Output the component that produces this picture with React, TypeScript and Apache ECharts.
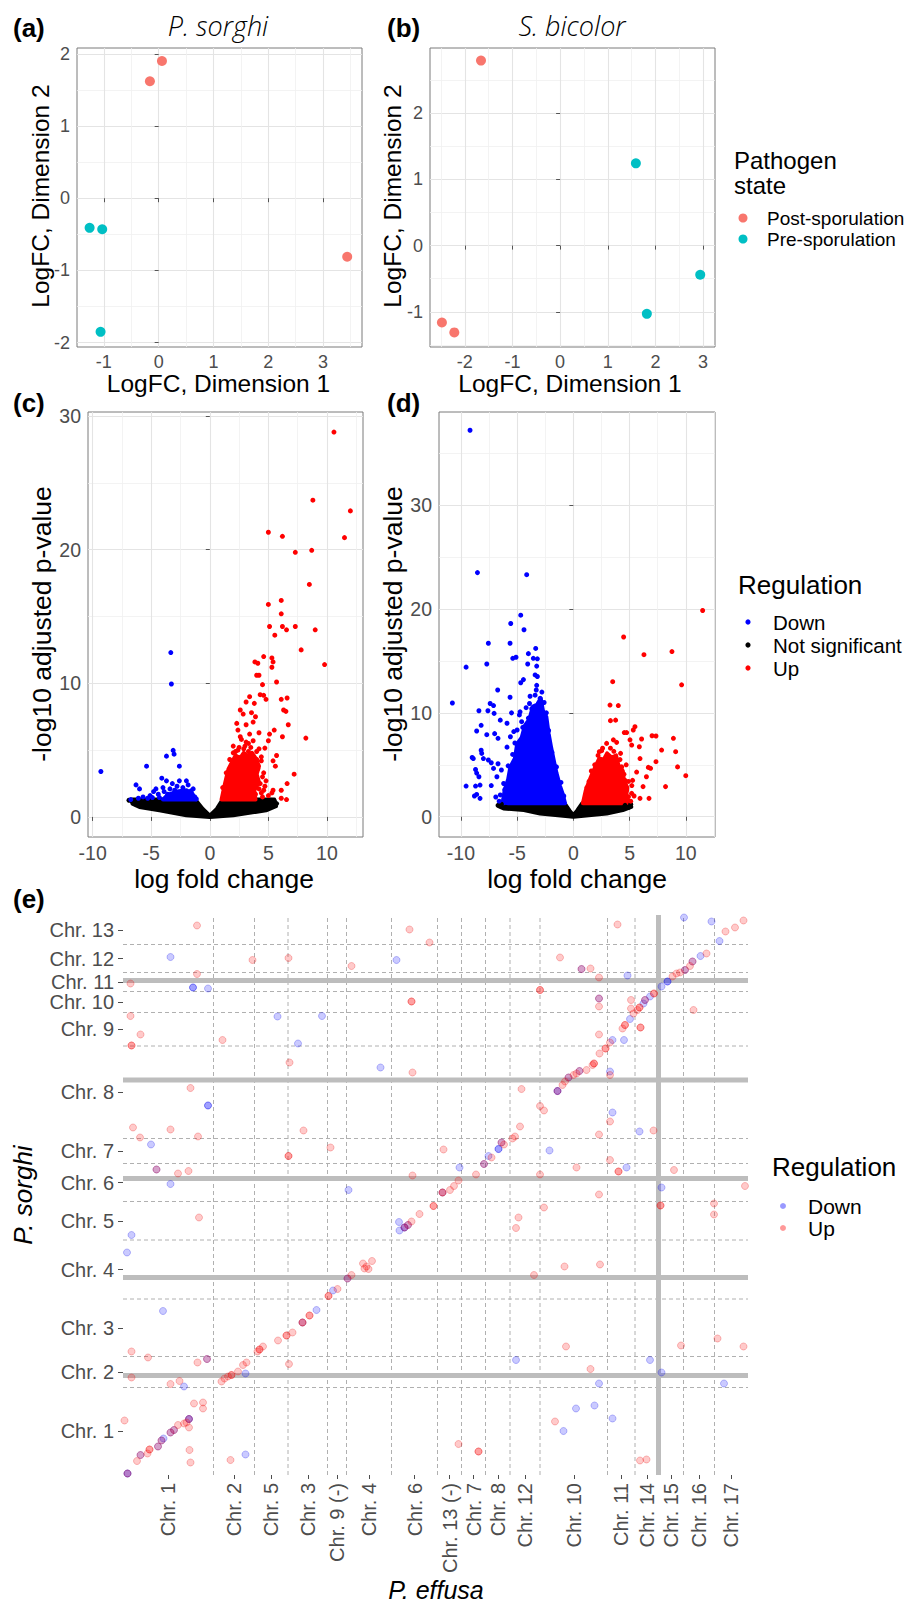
import React, { useEffect, useRef } from 'react';
import * as echarts from 'echarts';

const FF = '"Liberation Sans", Arial, Helvetica, sans-serif';
const TITLE_FF = '"Open Sans", "Liberation Sans", sans-serif';

// ---------- (a)/(b) MDS ----------
const mdsSorghiPost = [[0.06, 1.9], [-0.16, 1.62], [3.44, -0.81]];
const mdsSorghiPre = [[-1.26, -0.41], [-1.03, -0.43], [-1.06, -1.85]];
const mdsBicolorPost = [[-1.66, 2.79], [-2.48, -1.16], [-2.22, -1.31]];
const mdsBicolorPre = [[1.59, 1.24], [2.94, -0.44], [1.82, -1.03]];
const mdsSorghiXTicks = [-1, 0, 1, 2, 3];
const mdsSorghiYTicks = [-2, -1, 0, 1, 2];
const mdsBicolorXTicks = [-2, -1, 0, 1, 2, 3];
const mdsBicolorYTicks = [-1, 0, 1, 2];

// ---------- (c) volcano P. sorghi ----------
const volcanoXTicks = [-10, -5, 0, 5, 10];
const volcanoYTicks = [0, 10, 20, 30];
const cUp = [
  [10.6, 28.8], [8.8, 23.7], [12.0, 22.9], [5.0, 21.3], [6.2, 21.0], [11.5, 20.9], [7.3, 19.8], [8.7, 19.95],
  [8.5, 17.4], [5.0, 15.9], [6.1, 16.2], [6.1, 15.2], [5.1, 14.25], [6.2, 14.25], [6.55, 14.0], [7.3, 14.25],
  [9.0, 14.0], [5.55, 13.6], [7.8, 12.5], [9.8, 11.4], [4.6, 12.0], [5.3, 11.9], [5.4, 11.6], [5.3, 11.2],
  [3.85, 11.6], [4.1, 11.5], [4.0, 10.6], [4.2, 10.6], [4.5, 9.9], [5.7, 10.1], [4.3, 9.15], [4.6, 9.1],
  [4.8, 8.8], [6.1, 8.8], [6.6, 8.9], [3.4, 9.0], [3.1, 8.6], [3.8, 8.5], [6.3, 8.0], [6.5, 7.9], [2.6, 8.0],
  [2.85, 7.7], [3.56, 7.8], [3.9, 7.5], [6.7, 6.9], [2.3, 7.0], [3.1, 6.9], [3.7, 7.1], [2.4, 6.5], [3.4, 6.2],
  [4.2, 6.3], [5.5, 6.5], [5.1, 6.2], [6.2, 6.0], [8.2, 5.9], [2.7, 5.8], [3.3, 5.5], [3.7, 5.7], [5.0, 5.7],
  [2.5, 5.2], [4.2, 5.1], [4.7, 5.15], [5.7, 4.6], [4.4, 4.5], [5.4, 4.2], [5.6, 3.8], [7.2, 3.2], [4.8, 2.7],
  [6.6, 2.5], [5.4, 2.0], [6.1, 2.0], [6.1, 1.4], [6.55, 1.3], [4.6, 2.0], [3.7, 3.0], [4.1, 3.6],
  [1.2, 1.8], [1.5, 2.9], [1.9, 4.2], [2.2, 4.9], [2.9, 5.1], [3.5, 5.2], [4.0, 4.9], [4.4, 4.2], [4.6, 3.3],
  [4.3, 2.5], [3.9, 1.7], [4.5, 1.5], [5.0, 1.6], [5.3, 1.8], [1.1, 2.2], [1.4, 3.3], [1.7, 4.3], [2.0, 4.8],
  [2.4, 5.0], [3.0, 5.3], [3.3, 4.9], [4.0, 4.3], [4.5, 3.0], [4.2, 2.1], [4.4, 1.8], [4.7, 2.3], [3.1, 5.6],
  [2.0, 5.3], [1.3, 1.5], [2.6, 6.0],
];
const cDown = [
  [-9.3, 3.4], [-3.33, 12.3], [-3.28, 9.95], [-3.13, 4.98], [-3.05, 4.7], [-3.7, 4.55], [-2.6, 3.8], [-5.4, 3.8],
  [-4.1, 2.9], [-6.3, 2.4], [-6.0, 2.1], [-6.75, 1.3], [-4.8, 1.9], [-4.4, 1.7], [-3.7, 2.7], [-3.2, 2.5],
  [-2.6, 2.7], [-2.0, 2.7], [-1.85, 2.4], [-1.42, 2.1], [-2.3, 2.2], [-3.0, 2.0], [-3.6, 1.7], [-2.56, 1.7],
  [-1.7, 1.6], [-1.28, 1.5], [-5.1, 1.6], [-5.7, 1.5], [-6.1, 1.4], [-4.0, 2.2], [-4.6, 2.1], [-5.3, 1.4],
  [-4.9, 1.45], [-3.3, 1.5], [-2.2, 1.9], [-4.3, 1.45], [-3.9, 1.9], [-3.4, 2.1], [-2.8, 2.3], [-1.6, 1.95],
  [-1.15, 1.35], [-2.1, 1.55],
];
const cNS = [[-6.9, 1.25], [-6.6, 1.15], [-6.3, 0.95], [5.7, 1.0], [5.5, 1.2], [5.2, 1.25], [-5.5, 1.2], [4.5, 1.2]];
// outlines of the densest (overplotted) clouds
const cNSHull = [
  [-6.7, 1.3], [-1.25, 1.3], [-0.6, 0.6], [0, 0.1], [0.6, 0.6], [1.1, 1.3], [5.5, 1.3], [5.65, 0.8], [4.8, 0.5],
  [2.0, 0.12], [0, 0], [-2.0, 0.12], [-4.3, 0.5], [-6.0, 0.75], [-6.6, 1.0],
];
const cDownHull = [[-4.0, 1.3], [-3.6, 1.65], [-2.8, 1.9], [-2.0, 2.0], [-1.5, 1.75], [-1.2, 1.3]];
const cUpHull = [
  [1.0, 1.3], [1.3, 2.5], [1.6, 3.6], [1.9, 4.1], [2.2, 4.6], [2.6, 4.4], [2.9, 4.8], [3.3, 4.5], [3.6, 4.8],
  [3.9, 4.4], [4.2, 3.8], [4.0, 3.2], [4.2, 2.6], [3.8, 2.0], [3.9, 1.3],
];

// ---------- (d) volcano S. bicolor ----------
const dDown = [
  [-9.19, 37.2], [-8.53, 23.5], [-4.15, 23.3], [-4.68, 19.4], [-5.57, 18.6], [-4.39, 18.0], [-7.56, 16.7],
  [-5.63, 16.7], [-3.35, 16.2], [-4.0, 15.7], [-5.39, 15.25], [-5.1, 15.35], [-3.56, 15.25], [-3.2, 15.2],
  [-7.7, 14.7], [-4.06, 14.7], [-3.26, 14.5], [-9.54, 14.4], [-3.4, 13.65], [-3.2, 13.5], [-4.68, 12.9],
  [-4.44, 13.2], [-3.26, 12.65], [-6.73, 12.2], [-5.63, 11.5], [-3.85, 11.6], [-3.4, 11.7], [-2.96, 11.4],
  [-10.76, 10.95], [-7.4, 10.9], [-7.1, 10.7], [-8.4, 10.2], [-7.6, 10.2], [-7.05, 9.95], [-5.5, 10.0],
  [-4.74, 10.1], [-6.5, 9.3], [-5.9, 9.0], [-8.2, 8.8], [-8.6, 8.25], [-7.7, 7.9], [-7.0, 8.0], [-6.7, 7.55],
  [-8.2, 6.4], [-8.15, 6.1], [-9.0, 5.7], [-8.9, 5.6], [-8.7, 4.55], [-8.6, 4.2], [-8.0, 5.6], [-7.56, 5.46],
  [-7.3, 5.2], [-7.1, 4.65], [-6.7, 5.1], [-8.4, 3.85], [-9.54, 2.95], [-8.7, 2.95], [-8.3, 3.05], [-7.3, 3.0],
  [-8.6, 2.15], [-8.3, 1.77], [-8.8, 2.0], [-6.5, 2.1], [-6.9, 1.9], [-6.2, 3.2], [-6.8, 3.85], [-6.4, 4.5],
  [-5.9, 6.7], [-5.2, 7.1], [-5.6, 7.7], [-5.0, 8.35], [-4.6, 9.15], [-4.0, 9.5], [-3.1, 10.9], [-2.96, 10.6],
  [-6.6, 1.5], [-6.1, 2.6], [-5.8, 4.9], [-5.4, 6.0], [-4.5, 8.6], [-3.7, 10.4], [-2.4, 10.0], [-2.2, 8.3],
  [-3.3, 12.2], [-2.8, 12.0], [-3.9, 10.9], [-4.2, 10.5], [-2.6, 11.0], [-1.9, 6.2], [-1.5, 4.8], [-1.1, 3.3],
  [-0.85, 2.0], [-5.3, 8.2], [-4.8, 9.8],
];
const dUp = [
  [11.5, 19.85], [4.47, 17.3], [6.28, 15.6], [8.77, 15.9], [9.63, 12.7], [3.5, 13.0], [3.26, 10.75], [4.0, 10.7],
  [3.3, 9.25], [3.76, 9.3], [5.48, 8.67], [4.53, 8.1], [4.74, 8.1], [6.07, 7.48], [7.0, 7.8], [7.35, 7.77],
  [8.9, 7.55], [5.04, 7.4], [5.33, 8.35], [3.56, 7.4], [3.85, 7.16], [2.96, 7.06], [5.19, 6.9], [5.87, 6.74],
  [7.85, 6.42], [9.1, 6.26], [2.31, 6.26], [2.52, 6.36], [5.93, 5.6], [4.15, 5.5], [7.35, 5.3], [6.67, 4.75],
  [6.87, 4.66], [9.27, 4.8], [4.3, 4.8], [5.63, 4.3], [6.5, 3.85], [10.0, 3.95], [5.27, 3.5], [4.6, 3.5],
  [8.2, 2.9], [6.2, 2.9], [5.93, 1.77], [6.73, 1.77], [5.19, 2.25], [4.15, 4.5], [4.74, 2.57], [4.9, 1.93],
  [1.4, 3.4], [1.9, 5.0], [2.6, 6.6], [3.3, 6.6], [4.2, 6.1], [4.7, 5.0], [5.2, 3.0], [5.4, 2.0],
  [1.2, 2.8], [1.6, 4.4], [2.2, 5.9], [3.6, 6.3], [4.5, 4.1], [4.9, 3.4], [5.1, 1.5],
];
const dNS = [[-6.7, 1.1], [-6.4, 1.2], [-6.0, 0.9], [5.1, 1.2], [4.9, 0.9], [4.6, 1.1]];
const dNSHull = [
  [-6.5, 1.3], [-0.8, 1.3], [-0.35, 0.6], [0, 0.15], [0.35, 0.6], [0.8, 1.3], [5.0, 1.3], [5.15, 0.95],
  [4.4, 0.64], [2.96, 0.32], [0, 0], [-2.96, 0.32], [-4.4, 0.64], [-6.2, 0.8], [-6.6, 1.0],
];
const dDownHull = [
  [-6.3, 1.3], [-6.1, 2.6], [-5.8, 3.6], [-5.6, 4.8], [-5.2, 5.6], [-5.0, 7.0], [-4.6, 7.6], [-4.3, 8.8],
  [-3.9, 9.4], [-3.6, 10.6], [-3.2, 10.8], [-2.9, 11.4], [-2.7, 10.2], [-2.4, 9.6], [-2.2, 8.0], [-2.0, 6.8],
  [-1.7, 5.2], [-1.5, 4.2], [-1.2, 3.0], [-0.95, 2.2], [-0.74, 1.3],
];
const dUpHull = [
  [0.85, 1.3], [1.1, 2.5], [1.4, 3.4], [1.7, 4.2], [2.0, 4.9], [2.3, 5.6], [2.7, 5.5], [3.0, 6.1], [3.4, 5.7],
  [3.8, 5.9], [4.0, 5.0], [4.4, 4.4], [4.5, 3.5], [4.8, 2.8], [4.7, 2.0], [5.0, 1.3],
];

// ---------- (e) synteny, cumulative positions ----------
const effusaChr = ['Chr. 1', 'Chr. 2', 'Chr. 5', 'Chr. 3', 'Chr. 9 (-)', 'Chr. 4', 'Chr. 6', 'Chr. 13 (-)', 'Chr. 7',
  'Chr. 8', 'Chr. 12', 'Chr. 10', 'Chr. 11', 'Chr. 14', 'Chr. 15', 'Chr. 16', 'Chr. 17'];
const effusaBounds = [0, 18.1, 26.3, 33.0, 40.9, 44.7, 53.7, 62.9, 67.7, 72.5, 77.4, 83.4, 96.9, 102.4, 107.1, 112.1, 118.3, 125];
const sorghiChr = ['Chr. 1', 'Chr. 2', 'Chr. 3', 'Chr. 4', 'Chr. 5', 'Chr. 6', 'Chr. 7', 'Chr. 8', 'Chr. 9', 'Chr. 10',
  'Chr. 11', 'Chr. 12', 'Chr. 13'];
const sorghiBounds = [0, 17.5, 23.7, 35.2, 47.0, 54.7, 62.3, 67.3, 85.8, 92.5, 96.7, 100.5, 106.1, 112];
const sorghiThick = [19.9, 39.5, 59.3, 79.0, 98.9];
const effusaThick = [107.1];

const synUp = [
  [14.8, 109.9], [25.9, 103.0], [33.1, 103.4], [45.7, 101.8], [57.3, 109.1], [61.3, 106.5], [14.8, 100.2], [1.5, 98.3],
  [57.7, 94.7], [57.7, 94.7], [1.5, 91.8], [3.5, 88.1], [1.7, 85.9], [1.7, 85.9], [19.9, 87.0], [33.3, 82.5],
  [57.9, 80.5], [13.5, 77.4], [2.0, 69.5], [9.5, 69.1], [3.4, 67.5], [15.0, 67.7], [36.1, 68.9], [41.5, 65.5],
  [33.1, 63.8], [33.1, 63.8], [6.7, 61.1], [11.0, 60.3], [13.1, 60.8], [57.9, 59.9],
  [98.9, 110.1], [124.1, 110.9], [122.4, 109.5], [120.5, 108.7], [87.4, 103.5], [91.7, 101.2], [93.5, 101.3],
  [95.2, 99.5], [83.4, 97.0], [83.4, 97.0], [95.2, 95.3], [95.2, 93.7], [101.6, 95.0], [101.6, 93.3], [114.1, 93.0],
  [95.2, 88.1], [103.5, 89.5], [103.5, 89.5], [97.4, 80.0], [79.7, 77.2], [83.4, 73.8], [84.2, 72.9], [79.4, 69.7],
  [97.4, 70.7], [95.2, 68.1], [106.1, 68.9], [64.1, 65.1], [70.6, 60.1], [83.4, 60.1], [90.7, 61.5], [97.4, 63.0],
  [99.1, 60.7], [99.1, 60.7], [110.2, 61.0], [124.4, 57.8],
  [116.7, 104.3], [113.9, 102.7], [113.4, 101.8], [112.4, 101.0], [111.4, 100.5], [110.7, 100.3], [109.9, 99.7],
  [106.2, 96.3], [106.2, 96.3], [104.4, 95.0], [103.3, 93.5], [103.3, 93.5], [102.9, 93.0], [102.1, 92.3],
  [100.4, 90.0], [100.4, 90.0], [99.9, 89.3], [97.4, 86.5], [96.5, 85.3], [96.5, 85.3], [95.3, 84.3], [94.2, 82.3],
  [94.2, 82.3], [93.9, 82.0], [92.7, 81.0], [91.3, 80.8], [90.7, 80.3], [90.1, 80.0], [89.1, 79.5], [88.4, 78.7],
  [87.9, 78.0], [86.9, 76.8],
  [78.4, 67.7], [77.9, 67.3], [76.2, 66.1], [75.7, 66.5], [73.7, 63.5], [72.2, 62.2], [67.1, 58.9], [66.2, 57.8],
  [65.4, 57.0], [63.9, 56.5], [63.9, 56.5], [62.1, 53.8], [62.1, 53.8], [59.3, 52.2], [57.7, 50.7], [57.0, 50.0],
  [56.3, 49.5],
  [15.2, 51.5], [48.0, 42.3], [48.7, 41.7], [49.1, 41.2], [49.8, 42.8], [48.3, 41.3], [45.7, 40.0], [44.9, 39.3],
  [42.9, 37.2], [41.1, 35.8], [41.1, 35.8], [37.3, 31.9], [37.3, 31.9], [35.9, 30.5], [35.9, 30.5], [33.9, 28.5],
  [32.7, 27.9], [32.7, 27.9], [31.0, 26.9], [28.0, 25.7], [27.3, 25.1], [27.3, 25.1], [26.9, 24.7], [33.2, 22.2],
  [24.7, 22.5], [24.0, 22.0], [23.0, 20.7], [21.7, 20.0], [21.7, 20.0], [21.0, 19.7], [20.3, 19.3], [19.7, 18.7],
  [16.8, 23.2], [14.9, 22.5], [1.7, 24.7], [5.0, 23.5], [1.7, 19.5], [9.5, 18.2], [11.3, 18.8], [14.2, 14.3],
  [16.0, 14.5], [16.0, 13.3], [0.3, 10.9], [13.2, 11.2], [12.7, 10.5], [12.2, 10.3], [13.2, 9.5], [11.0, 10.0],
  [10.2, 9.0], [9.5, 8.5], [7.7, 6.9], [7.0, 5.7], [5.3, 5.1], [5.3, 5.1], [4.9, 4.3], [3.5, 4.0], [2.8, 2.8],
  [0.9, 0.3], [13.3, 5.0], [13.5, 2.5], [21.5, 3.0],
  [95.2, 56.1], [84.2, 53.5], [79.1, 51.5], [78.6, 49.4], [107.5, 53.9], [107.5, 53.9], [118.2, 54.3], [118.2, 52.1],
  [88.3, 41.7], [95.4, 42.1], [82.2, 40.0], [88.6, 25.7], [93.5, 21.2], [111.6, 25.9], [118.9, 27.3], [124.1, 25.7],
  [86.4, 10.7], [67.1, 6.2], [71.1, 4.7], [71.1, 4.7], [103.4, 2.9], [104.7, 3.1],
];
const synDown = [
  [9.5, 103.6], [54.7, 103.0], [14.0, 97.5], [14.0, 97.5], [17.0, 97.3], [30.9, 91.7], [39.8, 91.8], [35.0, 86.3],
  [51.5, 81.5], [17.0, 73.9], [17.0, 73.9], [5.6, 66.1], [6.7, 61.1], [9.5, 58.2], [45.1, 57.0],
  [112.2, 111.5], [117.7, 110.7], [119.3, 106.8], [91.7, 101.2], [100.9, 99.9], [95.2, 95.3], [100.2, 87.0],
  [97.4, 80.7], [97.9, 72.5], [103.3, 68.7], [85.3, 64.9], [67.3, 61.5], [100.7, 61.5], [107.7, 57.5],
  [115.5, 103.8], [113.9, 102.7], [112.4, 101.0], [108.9, 98.7], [108.9, 98.7], [107.7, 97.7], [105.4, 95.7],
  [104.4, 95.0], [104.1, 94.3], [101.4, 91.2], [97.9, 87.0], [91.3, 80.8], [89.1, 79.5], [86.9, 76.8], [86.9, 76.8],
  [75.7, 66.5], [75.1, 65.2], [75.1, 65.2], [73.1, 63.8], [72.2, 62.2], [63.9, 56.5], [57.0, 50.0], [56.3, 49.5],
  [56.3, 49.5], [55.3, 48.9], [55.2, 50.6],
  [1.7, 48.0], [0.8, 44.5], [44.9, 39.3], [42.0, 36.9], [8.0, 32.8], [38.7, 33.0], [35.9, 30.5], [16.8, 23.2],
  [24.5, 20.3], [12.2, 17.7], [13.2, 11.2], [13.2, 11.2], [10.2, 9.0], [9.5, 8.5], [8.1, 7.3], [7.7, 6.9], [7.0, 5.7],
  [3.5, 4.0], [0.9, 0.3], [0.9, 0.3], [24.5, 4.1],
  [78.6, 23.0], [95.2, 18.3], [105.4, 23.0], [107.7, 20.5], [120.2, 18.3], [90.6, 13.3], [94.3, 13.9], [97.9, 11.3],
  [88.1, 8.8],
];

const mids = (b: number[]) => b.slice(1).map((v, i) => (b[i] + v) / 2);
const effusaMids = mids(effusaBounds);
const sorghiMids = mids(sorghiBounds);
const nearestLabel = (ms: number[], names: string[], v: number) => {
  let best = 0;
  ms.forEach((m, i) => { if (Math.abs(m - v) < Math.abs(ms[best] - v)) best = i; });
  return names[best];
};

const RED_MDS = '#F8766D';
const CYAN_MDS = '#00BFC4';
const BORDER = '#7a7a7a';

function panelAxis(gridIndex: number, min: number, max: number, ticks: number[], splitNumber: number, isX: boolean, fontSize: number) {
  return {
    type: 'value', gridIndex, min, max, splitNumber,
    axisLine: { show: false },
    axisTick: { show: true, length: 4, customValues: ticks, lineStyle: { color: '#555', width: 1 } },
    axisLabel: {
      customValues: ticks, color: '#4d4d4d', fontSize, fontFamily: FF, margin: isX ? 6 : 7,
      showMinLabel: true, showMaxLabel: true,
    },
    splitLine: { show: true, lineStyle: { color: '#e4e4e4', width: 1.1 } },
    minorTick: { show: false, splitNumber: 2 },
    minorSplitLine: { show: true, lineStyle: { color: '#f0f0f0', width: 0.8 } },
  };
}

function hullSeries(idx: number, hull: number[][], color: string) {
  return {
    type: 'custom', xAxisIndex: idx, yAxisIndex: idx, silent: true, clip: true, z: 2,
    data: hull,
    renderItem: (params: any, api: any) => {
      if (params.dataIndex !== 0) return { type: 'group', children: [] };
      return {
        type: 'polygon',
        shape: { points: hull.map((p) => api.coord(p)) },
        style: { fill: color, stroke: color, lineWidth: 4, lineJoin: 'round' },
      };
    },
  };
}

function pts(idx: number, data: number[][], color: string, size: number, z = 3) {
  return {
    type: 'scatter', xAxisIndex: idx, yAxisIndex: idx, data, symbolSize: size, z, silent: true,
    itemStyle: { color, opacity: 1 },
  };
}

function lineSeries(values: number[], vertical: boolean, style: any) {
  return {
    type: 'custom', xAxisIndex: 4, yAxisIndex: 4, silent: true, z: 1,
    data: values.map((v) => (vertical ? [v, 0] : [0, v])),
    renderItem: (params: any, api: any) => {
      const v = api.value(vertical ? 0 : 1);
      const p1 = vertical ? api.coord([v, 0]) : api.coord([0, v]);
      const p2 = vertical ? api.coord([v, 112]) : api.coord([125, v]);
      return { type: 'line', shape: { x1: p1[0], y1: p1[1], x2: p2[0], y2: p2[1] }, style };
    },
  };
}

const txt = (text: string, x: number, y: number, size: number, o: any = {}) => ({
  type: 'text', x, y, rotation: o.rot ? Math.PI / 2 : 0, silent: true, z: 10,
  style: {
    text, fontSize: size, fontFamily: o.ff || FF, fontStyle: o.italic ? 'italic' : 'normal',
    fontWeight: o.bold ? 'bold' : o.weight || 'normal', fill: o.color || '#000',
    align: o.align || 'center', verticalAlign: 'middle', textAlign: o.align || 'center', textVerticalAlign: 'middle',
  },
});
const dot = (cx: number, cy: number, r: number, fill: string) => ({
  type: 'circle', shape: { cx, cy, r }, style: { fill }, silent: true, z: 10,
});

function buildOption() {
  const grids = [
    { left: 77, top: 48, width: 285, height: 299 },
    { left: 430, top: 48, width: 285, height: 299 },
    { left: 88, top: 412, width: 275, height: 425 },
    { left: 439, top: 412, width: 276, height: 425 },
    { left: 123, top: 915, width: 625, height: 560 },
  ].map((g, i) => ({
    ...g, containLabel: false,
    show: i < 4, borderColor: BORDER, borderWidth: 1, backgroundColor: 'transparent',
  }));

  const xAxis = [
    panelAxis(0, -1.49, 3.71, mdsSorghiXTicks, 5, true, 18),
    panelAxis(1, -2.73, 3.25, mdsBicolorXTicks, 5, true, 18),
    panelAxis(2, -10.4, 13.08, volcanoXTicks, 5, true, 19.5),
    panelAxis(3, -11.95, 12.6, volcanoXTicks, 5, true, 19.5),
    {
      type: 'value', gridIndex: 4, min: 0, max: 125,
      axisLine: { show: false }, splitLine: { show: false },
      axisTick: { show: true, length: 4, customValues: effusaMids, lineStyle: { color: '#4d4d4d' } },
      axisLabel: {
        customValues: effusaMids, rotate: 90, margin: 8, fontSize: 20, color: '#4d4d4d', fontFamily: FF,
        formatter: (v: number) => nearestLabel(effusaMids, effusaChr, v),
      },
    },
  ];
  const yAxis = [
    panelAxis(0, -2.06, 2.08, mdsSorghiYTicks, 5, false, 18),
    panelAxis(1, -1.53, 2.98, mdsBicolorYTicks, 5, false, 18),
    panelAxis(2, -1.5, 30.3, volcanoYTicks, 3, false, 19.5),
    panelAxis(3, -1.95, 38.96, volcanoYTicks, 4, false, 19.5),
    {
      type: 'value', gridIndex: 4, min: 0, max: 112,
      axisLine: { show: false }, splitLine: { show: false },
      axisTick: { show: true, length: 5, customValues: sorghiMids, lineStyle: { color: '#4d4d4d' } },
      axisLabel: {
        customValues: sorghiMids, margin: 9, fontSize: 20, color: '#4d4d4d', fontFamily: FF,
        formatter: (v: number) => nearestLabel(sorghiMids, sorghiChr, v),
      },
    },
  ];

  const dashed = { stroke: '#b0b0b0', lineWidth: 1, lineDash: [4, 3] };
  const thick = { stroke: '#bdbdbd', lineWidth: 5 };
  const synRed = { color: 'rgba(255,0,0,0.26)', borderColor: 'rgba(230,0,0,0.32)', borderWidth: 1 };
  const synBlue = { color: 'rgba(0,0,255,0.26)', borderColor: 'rgba(0,0,230,0.32)', borderWidth: 1 };

  const series: any[] = [
    pts(0, mdsSorghiPost, RED_MDS, 10), pts(0, mdsSorghiPre, CYAN_MDS, 10),
    pts(1, mdsBicolorPost, RED_MDS, 10), pts(1, mdsBicolorPre, CYAN_MDS, 10),

    hullSeries(2, cNSHull, '#000'), pts(2, cNS, '#000', 5),
    hullSeries(2, cDownHull, '#0000ff'), pts(2, cDown, '#0000ff', 5),
    hullSeries(2, cUpHull, '#ff0000'), pts(2, cUp, '#ff0000', 5),

    hullSeries(3, dNSHull, '#000'), pts(3, dNS, '#000', 5),
    hullSeries(3, dDownHull, '#0000ff'), pts(3, dDown, '#0000ff', 5),
    hullSeries(3, dUpHull, '#ff0000'), pts(3, dUp, '#ff0000', 5),

    lineSeries(effusaBounds.slice(1, -1), true, dashed),
    lineSeries(sorghiBounds.slice(1, -1), false, dashed),
    lineSeries(effusaThick, true, thick),
    lineSeries(sorghiThick, false, thick),
    { type: 'scatter', xAxisIndex: 4, yAxisIndex: 4, data: synDown, symbolSize: 7, z: 3, silent: true, itemStyle: synBlue },
    { type: 'scatter', xAxisIndex: 4, yAxisIndex: 4, data: synUp, symbolSize: 7, z: 3, silent: true, itemStyle: synRed },
  ];

  const titleFont = { ff: TITLE_FF, italic: true, weight: 300 };
  const graphic = [
    txt('(a)', 13, 28, 26, { bold: true, align: 'left' }),
    txt('(b)', 387, 28, 26, { bold: true, align: 'left' }),
    txt('(c)', 13, 403, 26, { bold: true, align: 'left' }),
    txt('(d)', 387, 403, 26, { bold: true, align: 'left' }),
    txt('(e)', 13, 899, 26, { bold: true, align: 'left' }),
    txt('P. sorghi', 218, 25, 27, titleFont),
    txt('S. bicolor', 572, 25, 27, titleFont),
    txt('LogFC, Dimension 1', 218.5, 383, 24.5),
    txt('LogFC, Dimension 1', 570, 383, 24.5),
    txt('LogFC, Dimension 2', 40, 196, 24.5, { rot: true }),
    txt('LogFC, Dimension 2', 392, 196, 24.5, { rot: true }),
    txt('log fold change', 224, 879, 26.5),
    txt('log fold change', 577, 879, 26.5),
    txt('-log10 adjusted p-value', 42, 624, 26.5, { rot: true }),
    txt('-log10 adjusted p-value', 392.5, 624, 26.5, { rot: true }),
    txt('P. sorghi', 23, 1195, 26, { rot: true, italic: true }),
    txt('P. effusa', 436, 1590, 25, { italic: true }),
    // legend (a)/(b)
    txt('Pathogen', 734, 160, 24, { align: 'left' }),
    txt('state', 734, 185, 24, { align: 'left' }),
    dot(743, 218, 4.5, RED_MDS),
    txt('Post-sporulation', 767, 218, 19, { align: 'left' }),
    dot(743, 239, 4.5, CYAN_MDS),
    txt('Pre-sporulation', 767, 239, 19, { align: 'left' }),
    // legend (c)/(d)
    txt('Regulation', 738, 585, 26, { align: 'left' }),
    dot(748, 622, 2.6, '#0000ff'),
    txt('Down', 773, 622, 20.5, { align: 'left' }),
    dot(748, 645, 2.6, '#000000'),
    txt('Not significant', 773, 645, 20.5, { align: 'left' }),
    dot(748, 668, 2.6, '#ff0000'),
    txt('Up', 773, 668, 20.5, { align: 'left' }),
    // legend (e)
    txt('Regulation', 772, 1167, 26, { align: 'left' }),
    dot(783, 1206, 3, 'rgba(0,0,255,0.4)'),
    txt('Down', 808, 1206, 21, { align: 'left' }),
    dot(783, 1228, 3, 'rgba(255,0,0,0.4)'),
    txt('Up', 808, 1228, 21, { align: 'left' }),
  ];

  return {
    animation: false,
    backgroundColor: '#ffffff',
    textStyle: { fontFamily: FF },
    grid: grids,
    xAxis,
    yAxis,
    series,
    graphic,
  };
}

export default function App() {
  const ref = useRef<HTMLDivElement>(null);
  useEffect(() => {
    if (!ref.current) return;
    const chart = echarts.init(ref.current, null, { renderer: 'svg' });
    chart.setOption(buildOption() as any);
    return () => chart.dispose();
  }, []);
  return (
    <div
      ref={ref}
      style={{ position: 'absolute', left: 0, top: 0, width: 909, height: 1608, background: '#fff' }}
    />
  );
}
